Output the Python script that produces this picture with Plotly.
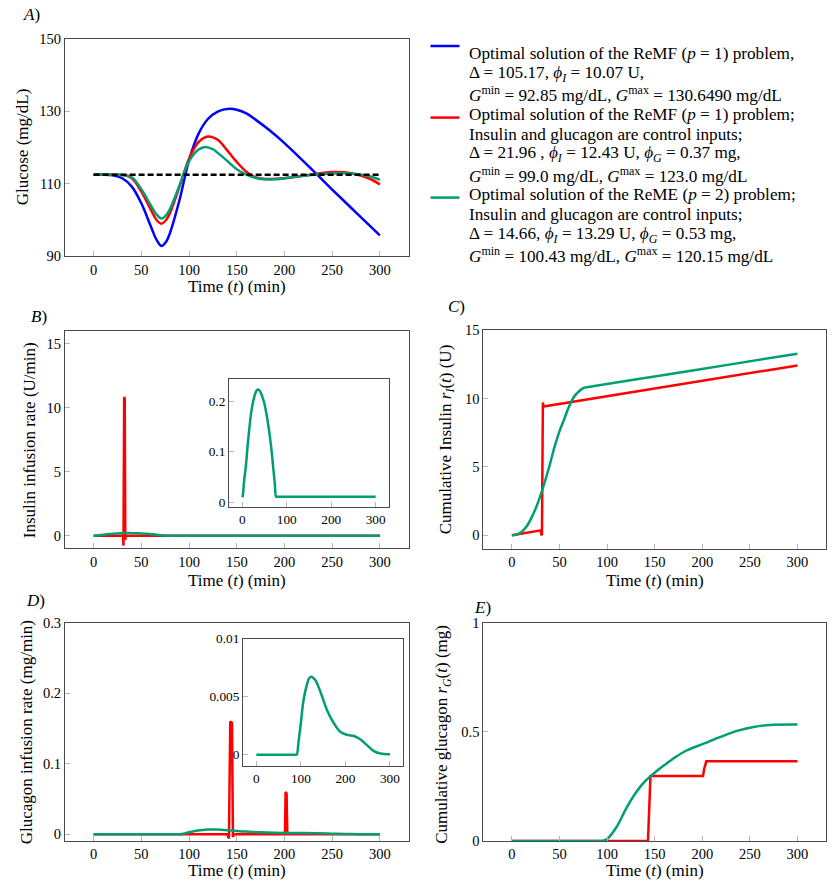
import plotly.graph_objects as go

W, H = 835, 885
FONT = "Liberation Serif, DejaVu Serif, serif"
BLUE = "#0000ff"
RED = "#ff0000"
GREEN = "#009e73"

# ---- panel A: glucose ----
t_blue = [0, 10, 20, 30, 40, 50, 60, 66, 71, 76, 80, 90, 100, 110, 120, 130, 142, 150, 160, 170, 185, 200, 230, 250, 280, 300]
g_blue = [112.5, 112.5, 112.3, 111.5, 109.2, 104.6, 98.2, 94.5, 92.85, 94.0, 96.4, 105.5, 116.5, 123.8, 127.9, 129.9, 130.65, 130.4, 129.4, 127.6, 124.6, 121.2, 113.6, 108.4, 100.8, 95.75]

t_red = [0, 20, 30, 40, 50, 60, 66, 71, 76, 80, 90, 100, 110, 120, 130, 140, 150, 160, 170, 180, 200, 220, 250, 270, 290, 300]
g_red = [112.5, 112.5, 112.4, 111.5, 107.8, 102.8, 100.0, 99.0, 100.0, 101.9, 109.2, 116.9, 121.5, 123.0, 122.1, 119.2, 116.0, 113.3, 111.7, 111.3, 111.5, 112.2, 113.2, 112.9, 111.3, 109.8]

t_green = [0, 20, 30, 40, 50, 60, 66, 71, 76, 80, 90, 100, 110, 117, 125, 130, 140, 150, 160, 170, 180, 190, 200, 220, 250, 270, 290, 300]
g_green = [112.5, 112.5, 112.4, 111.8, 108.5, 104.0, 101.5, 100.43, 101.3, 103.0, 109.5, 116.2, 119.4, 120.15, 119.5, 118.5, 116.3, 114.0, 112.5, 111.6, 111.2, 111.2, 111.5, 112.2, 112.8, 112.8, 112.0, 111.1]

t_ref = [0, 300]
g_ref = [112.5, 112.5]

# ---- panel B: insulin rate ----
t_ins_red = [0, 30.8, 31.3, 32.0, 32.6, 33.2, 33.6, 300]
u_ins_red = [0.011, 0.011, -0.75, 10.85, 10.7, -0.3, 0.011, 0.011]
t_ins_green = [0, 1, 4, 8, 12, 16, 20, 24, 28, 32, 35, 38, 42, 46, 50, 54, 58, 62, 66, 70, 73, 76, 78, 300]
u_ins_green = [0.01, 0.013, 0.042, 0.072, 0.113, 0.148, 0.178, 0.198, 0.212, 0.221, 0.223, 0.222, 0.216, 0.206, 0.194, 0.176, 0.155, 0.13, 0.1, 0.064, 0.038, 0.011, 0.011, 0.011]

# ---- panel C: cumulative insulin ----
t_ci_red = [0, 30.5, 31.0, 31.6, 32.6, 33.3, 300]
r_ci_red = [0, 0.36, 0.05, 0.0, 9.72, 9.42, 12.43]
t_ci_green = [0, 5, 10, 15, 20, 25, 30, 35, 40, 45, 50, 55, 60, 65, 70, 76, 80, 90, 150, 225, 300]
r_ci_green = [0, 0.05, 0.24, 0.6, 1.2, 1.95, 2.9, 4.0, 5.2, 6.5, 7.6, 8.5, 9.4, 10.1, 10.5, 10.8, 10.85, 10.96, 11.62, 12.45, 13.29]

# ---- panel D: glucagon rate ----
t_glu_red = [0, 140, 141.8, 143.2, 145.0, 146.0, 147.0, 200.5, 201.2, 202.2, 203.0, 300]
u_glu_red = [0, 0, -0.006, 0.16, 0.158, -0.004, 0, 0, 0.06, 0.058, 0, 0]
t_glu_green = [0, 88, 90, 91, 95, 99, 106, 114, 119, 124, 128, 133, 144, 159, 174, 189, 204, 219, 234, 249, 264, 279, 300]
u_glu_green = [0, 0, 0, 0, 0.0012, 0.0024, 0.0047, 0.0061, 0.0066, 0.0067, 0.0066, 0.0064, 0.0054, 0.0038, 0.0027, 0.00195, 0.0017, 0.0016, 0.0013, 0.0008, 0.0003, 0.0001, 0.00003]

# ---- panel E: cumulative glucagon ----
t_cg_red = [0, 143, 145.6, 200.8, 202, 204.3, 300]
r_cg_red = [0, 0, 0.298, 0.298, 0.33, 0.366, 0.366]
t_cg_green = [0, 90, 93, 95, 100, 110, 120, 130, 140, 150, 160, 172, 184, 201.5, 219, 236.6, 254, 271.6, 300]
r_cg_green = [0, 0, 0, 0, 0.009, 0.064, 0.148, 0.22, 0.274, 0.313, 0.347, 0.385, 0.416, 0.446, 0.477, 0.505, 0.523, 0.532, 0.534]

legend_lines = [
    "Optimal solution of the ReMF (<i>p</i> = 1) problem,",
    "Δ = 105.17, <i>ϕ<sub>I</sub></i> = 10.07 U,",
    "<i>G</i><sup>min</sup> = 92.85 mg/dL, <i>G</i><sup>max</sup> = 130.6490 mg/dL",
    "Optimal solution of the ReMF (<i>p</i> = 1) problem;",
    "Insulin and glucagon are control inputs;",
    "Δ = 21.96 , <i>ϕ<sub>I</sub></i> = 12.43 U, <i>ϕ<sub>G</sub></i> = 0.37 mg,",
    "<i>G</i><sup>min</sup> = 99.0 mg/dL, <i>G</i><sup>max</sup> = 123.0 mg/dL",
    "Optimal solution of the ReME (<i>p</i> = 2) problem;",
    "Insulin and glucagon are control inputs;",
    "Δ = 14.66, <i>ϕ<sub>I</sub></i> = 13.29 U, <i>ϕ<sub>G</sub></i> = 0.53 mg,",
    "<i>G</i><sup>min</sup> = 100.43 mg/dL, <i>G</i><sup>max</sup> = 120.15 mg/dL",
]
legend_colors = [BLUE, RED, GREEN]
legend_key_y = [45.7, 117.3, 197.3]


# the photographed page comes out a little squashed vertically
# (about 8 px lower at the top, 7 px higher at the bottom), so pre-scale y pixels
def Y(y):
    return (y - 7.7) / 0.982


def xdom(x0, x1):
    return [x0 / W, x1 / W]


def ydom(y0, y1):
    return [1 - Y(y1) / H, 1 - Y(y0) / H]


fig = go.Figure()


def line(x, y, color, ax, shape="linear", dash=None):
    fig.add_trace(go.Scatter(
        x=x, y=y, mode="lines", showlegend=False,
        line=dict(color=color, width=2.5, shape=shape, dash=dash),
        xaxis="x" + ax, yaxis="y" + ax, hoverinfo="skip"))


line(t_blue, g_blue, BLUE, "", "spline")
line(t_red, g_red, RED, "", "spline")
line(t_green, g_green, GREEN, "", "spline")
line(t_ref, g_ref, "black", "", dash="6px,3px")

line(t_ins_red, u_ins_red, RED, "2")
line(t_ins_green, u_ins_green, GREEN, "2", "spline")
line(t_ins_green, u_ins_green, GREEN, "3", "spline")

line(t_ci_red, r_ci_red, RED, "4")
line(t_ci_green, r_ci_green, GREEN, "4", "spline")

line(t_glu_red, u_glu_red, RED, "5")
line(t_glu_green, u_glu_green, GREEN, "5", "spline")
line(t_glu_green, u_glu_green, GREEN, "6", "spline")

line(t_cg_red, r_cg_red, RED, "7")
line(t_cg_green, r_cg_green, GREEN, "7", "spline")


def axis(dom, rng, tickvals, size=14.5, ticktext=None, anchor=None):
    d = dict(domain=dom, range=rng, tickvals=tickvals, ticks="inside", ticklen=5,
             tickcolor="#b5b5b5", tickwidth=1, showline=True, linecolor="#4a4a4a",
             linewidth=1, mirror=True, showgrid=False, zeroline=False,
             tickfont=dict(family=FONT, size=size, color="black"))
    if ticktext is not None:
        d["ticktext"] = ticktext
    if anchor:
        d["anchor"] = anchor
    return d


xt = [0, 50, 100, 150, 200, 250, 300]
xt_in = [0, 100, 200, 300]
fig.update_layout(
    xaxis=axis(xdom(65, 408.5), [-30, 330], xt, anchor="y"),
    yaxis=axis(ydom(38.3, 256), [90, 150], [90, 110, 130, 150], anchor="x"),
    xaxis2=axis(xdom(65, 408.5), [-30, 330], xt, anchor="y2"),
    yaxis2=axis(ydom(331, 548), [-0.96, 15.97], [0, 5, 10, 15], anchor="x2"),
    xaxis3=axis(xdom(229, 389), [-30, 330], xt_in, 13.3, anchor="y3"),
    yaxis3=axis(ydom(378.7, 506.7), [-0.0093, 0.244], [0, 0.1, 0.2], 13.3, anchor="x3"),
    xaxis4=axis(xdom(483.3, 826), [-30, 330], xt, anchor="y4"),
    yaxis4=axis(ydom(330, 548.3), [-0.97, 15], [0, 5, 10, 15], anchor="x4"),
    xaxis5=axis(xdom(65, 408.5), [-30, 330], xt, anchor="y5"),
    yaxis5=axis(ydom(622.7, 840.7), [-0.0095, 0.3], [0, 0.1, 0.2, 0.3], anchor="x5"),
    xaxis6=axis(xdom(243, 403.3), [-30, 330], xt_in, 13.3, anchor="y6"),
    yaxis6=axis(ydom(638.3, 766), [-0.001, 0.01], [0, 0.005, 0.01], 13.3,
                ticktext=["0", "0.005", "0.01"], anchor="x6"),
    xaxis7=axis(xdom(483.3, 826), [-30, 330], xt, anchor="y7"),
    yaxis7=axis(ydom(622.7, 840.7), [0, 1], [0, 0.5, 1], ticktext=["0", "0.5", "1"], anchor="x7"),
)

annots = []


def text(x, y, s, size=17, angle=0, xanchor="center"):
    annots.append(dict(x=x / W, y=1 - Y(y) / H, xref="paper", yref="paper", text=s,
                       showarrow=False, textangle=angle, xanchor=xanchor, yanchor="middle",
                       font=dict(family=FONT, size=size, color="black")))


for lx, ly, lab in [(31, 14, "A"), (39, 316, "B"), (456, 306, "C"), (35, 600, "D"), (483, 607, "E")]:
    text(lx, ly, "<i>" + lab + "</i>)")

xlab = "Time (<i>t</i>) (min)"
for lx, ly in [(237, 286), (237, 580), (655, 580), (237, 870), (655, 870)]:
    text(lx, ly, xlab)

text(22, 147, "Glucose (mg/dL)", angle=-90)
text(29, 440, "Insulin infusion rate (U/min)", angle=-90)
text(447, 439, "Cumulative Insulin <i>r<sub>I</sub></i>(<i>t</i>) (U)", angle=-90)
text(26, 732, "Glucagon infusion rate (mg/min)", angle=-90)
text(443.5, 734, "Cumulative glucagon <i>r<sub>G</sub></i>(<i>t</i>) (mg)", angle=-90)

# legend drawn by hand so the 20 px line pitch of the original is kept
for i, s in enumerate(legend_lines):
    text(466.7, 53.3 + 20.17 * i, s, size=17.2, xanchor="left")
shapes = []
for c, ky in zip(legend_colors, legend_key_y):
    shapes.append(dict(type="line", xref="paper", yref="paper",
                       x0=430.5 / W, x1=459.5 / W, y0=1 - Y(ky) / H, y1=1 - Y(ky) / H,
                       line=dict(color=c, width=2.5)))

fig.update_layout(
    width=W, height=H,
    margin=dict(l=0, r=0, t=0, b=0),
    paper_bgcolor="white", plot_bgcolor="white",
    annotations=annots, shapes=shapes, showlegend=False,
)

fig.write_html("out.html", config={"displayModeBar": False},
               post_script="document.body.style.margin='0';")
